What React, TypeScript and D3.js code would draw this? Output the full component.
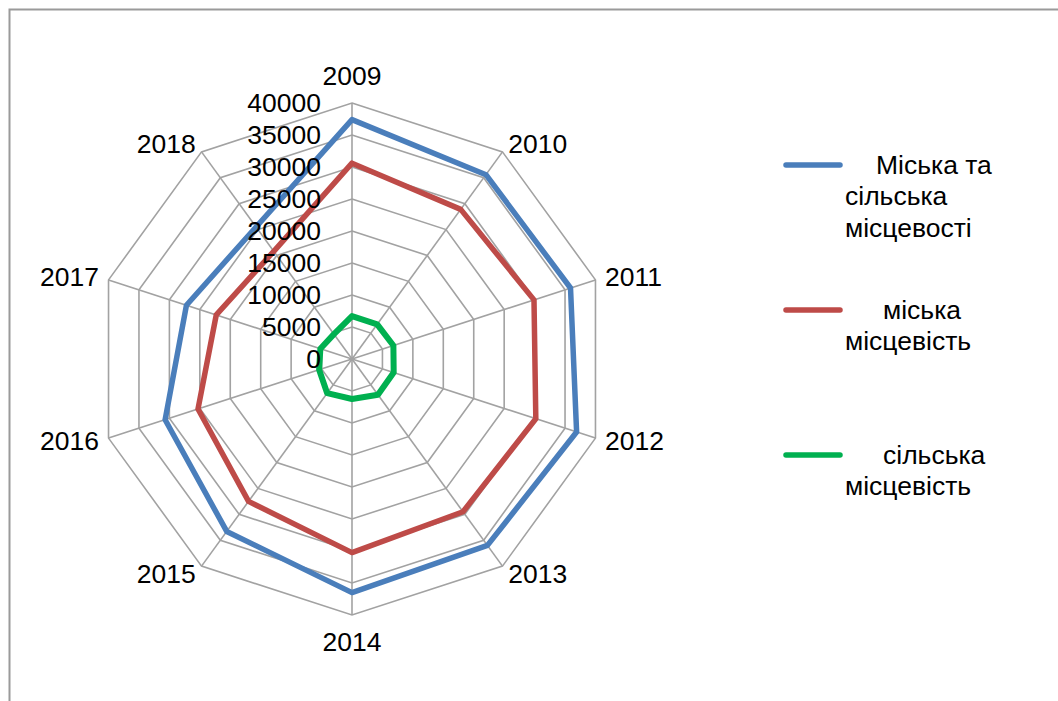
import React from "react";
import * as d3 from "d3";

const years = ["2009", "2010", "2011", "2012", "2013", "2014", "2015", "2016", "2017", "2018"];
const totalValues = [37400, 35600, 35900, 36900, 36000, 36500, 33300, 30700, 27200, 25500];
const urbanValues = [30600, 28900, 29900, 30200, 29500, 30250, 27500, 25300, 22300, 20800];
const ruralValues = [6700, 6700, 6800, 6850, 6900, 6250, 6600, 5400, 5200, 4800];
const tickValues = [0, 5000, 10000, 15000, 20000, 25000, 30000, 35000, 40000];
const seriesNames = [
  ["Міська та", "сільська", "місцевості"],
  ["міська", "місцевість"],
  ["сільська", "місцевість"],
];
const seriesColors = ["#4a7ebb", "#be4b48", "#00b050"];
const seriesWidths = [5.5, 5.5, 6];

const W = 1058;
const H = 701;
const CX = 352;
const CY = 359;
const R = 256;
const FONT = "'Liberation Sans', Arial, sans-serif";
const FS = 25;
const SX = 1.06;

function T({ x, y, anchor = "start", children }: any) {
  return (
    <g transform={`translate(${x},${y}) scale(${SX},1)`}>
      <text x={0} y={0} textAnchor={anchor} dominantBaseline="central" fontFamily={FONT} fontSize={FS} fill="#000">
        {children}
      </text>
    </g>
  );
}

export default function App() {
  const r = d3.scaleLinear().domain([0, 40000]).range([0, R]);
  const n = years.length;
  const angle = (i: number) => (i * 2 * Math.PI) / n;
  const pt = (i: number, v: number) => [CX + r(v) * Math.sin(angle(i)), CY - r(v) * Math.cos(angle(i))];

  const radial = d3
    .lineRadial<number>()
    .angle((_, i) => angle(i))
    .radius((d) => r(d))
    .curve(d3.curveLinearClosed);

  const series = [totalValues, urbanValues, ruralValues];

  const rings = tickValues.filter((t) => t > 0);

  const legendY = [165, 310, 455];
  const legendFirstX = [876, 883, 883];

  return (
    <svg width={W} height={H} style={{ position: "absolute", left: 0, top: 0, background: "#fff" }}>
      <rect x={0} y={0} width={W} height={H} fill="#fff" />
      <rect x={9.5} y={9.5} width={1200} height={900} fill="none" stroke="#9a9a9a" strokeWidth={2} />
      {rings.map((t) => (
        <polygon
          key={t}
          points={years.map((_, i) => pt(i, t).join(",")).join(" ")}
          fill="none"
          stroke="#a2a2a2"
          strokeWidth={1.6}
        />
      ))}
      {years.map((y, i) => {
        const [x2, y2] = pt(i, 40000);
        return <line key={y} x1={CX} y1={CY} x2={x2} y2={y2} stroke="#a2a2a2" strokeWidth={1.6} />;
      })}
      {series.map((vals, k) => (
        <path
          key={k}
          d={radial(vals) || ""}
          transform={`translate(${CX},${CY})`}
          fill="none"
          stroke={seriesColors[k]}
          strokeWidth={seriesWidths[k]}
          strokeLinejoin="round"
        />
      ))}
      {tickValues.map((t) => (
        <T key={t} x={CX - 31} y={CY - r(t)} anchor="end">
          {String(t)}
        </T>
      ))}
      {years.map((y, i) => {
        const a = angle(i);
        const s = Math.sin(a);
        const c = Math.cos(a);
        const [ex, ey] = pt(i, 40000);
        let anchor = "middle";
        if (s > 0.1) anchor = "start";
        else if (s < -0.1) anchor = "end";
        const off = 10;
        const lx = ex + s * off;
        let ly = ey - c * off;
        if (anchor === "middle") ly = ey - c * 27;
        return (
          <T key={y} x={lx} y={ly} anchor={anchor}>
            {y}
          </T>
        );
      })}
      {seriesNames.map((lines, k) => (
        <g key={k}>
          <line
            x1={786}
            x2={840}
            y1={legendY[k]}
            y2={legendY[k]}
            stroke={seriesColors[k]}
            strokeWidth={5.5}
            strokeLinecap="round"
          />
          {lines.map((ln, j) => (
            <T key={j} x={j === 0 ? legendFirstX[k] : 845} y={legendY[k] + j * 31.5}>
              {ln}
            </T>
          ))}
        </g>
      ))}
    </svg>
  );
}
